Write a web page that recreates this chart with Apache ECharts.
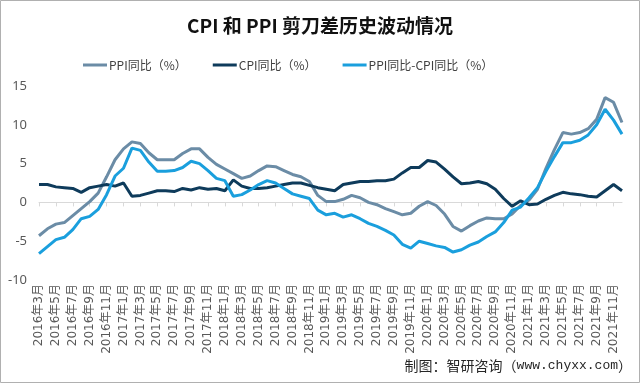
<!DOCTYPE html>
<html>
<head>
<meta charset="utf-8">
<script src="https://cdn.jsdelivr.net/npm/echarts@6/dist/echarts.min.js"></script>
<style>html,body{margin:0;padding:0;background:#fff}#c{width:640px;height:383px}</style>
</head>
<body>
<div id="c"></div>
<script>
const months = [];
for (let y = 2016; y <= 2021; y++) {
  for (let m = (y === 2016 ? 3 : 1); m <= 12; m++) months.push(y + '年' + m + '月');
}
const ppi = [
  -4.3, -3.4, -2.8, -2.6, -1.7, -0.8, 0.1, 1.2, 3.3, 5.5,
  6.9, 7.8, 7.6, 6.4, 5.5, 5.5, 5.5, 6.3, 6.9, 6.9, 5.8, 4.9,
  4.3, 3.7, 3.1, 3.4, 4.1, 4.7, 4.6, 4.1, 3.6, 3.3, 2.7, 0.9,
  0.1, 0.1, 0.4, 0.9, 0.6, 0.0, -0.3, -0.8, -1.2, -1.6, -1.4, -0.5,
  0.1, -0.4, -1.5, -3.1, -3.7, -3.0, -2.4, -2.0, -2.1, -2.1, -1.5, -0.4,
  0.3, 1.7, 4.4, 6.8, 9.0, 8.8, 9.0, 9.5, 10.7, 13.5, 12.9, 10.3
];
const cpi = [
  2.3, 2.3, 2.0, 1.9, 1.8, 1.3, 1.9, 2.1, 2.3, 2.1,
  2.5, 0.8, 0.9, 1.2, 1.5, 1.5, 1.4, 1.8, 1.6, 1.9, 1.7, 1.8,
  1.5, 2.9, 2.1, 1.8, 1.8, 1.9, 2.1, 2.3, 2.5, 2.5, 2.2, 1.9,
  1.7, 1.5, 2.3, 2.5, 2.7, 2.7, 2.8, 2.8, 3.0, 3.8, 4.5, 4.5,
  5.4, 5.2, 4.3, 3.3, 2.4, 2.5, 2.7, 2.4, 1.7, 0.5, -0.5, 0.2,
  -0.3, -0.2, 0.4, 0.9, 1.3, 1.1, 1.0, 0.8, 0.7, 1.5, 2.3, 1.5
];
const spread = [
  -6.6, -5.7, -4.8, -4.5, -3.5, -2.1, -1.8, -0.9, 1.0, 3.4,
  4.4, 7.0, 6.7, 5.2, 4.0, 4.0, 4.1, 4.5, 5.3, 5.0, 4.1, 3.1,
  2.8, 0.8, 1.0, 1.6, 2.3, 2.8, 2.5, 1.8, 1.1, 0.8, 0.5, -1.0,
  -1.6, -1.4, -1.9, -1.6, -2.1, -2.7, -3.1, -3.6, -4.2, -5.4, -5.9, -5.0,
  -5.3, -5.6, -5.8, -6.4, -6.1, -5.5, -5.1, -4.4, -3.8, -2.6, -1.0, -0.6,
  0.6, 1.9, 4.0, 5.9, 7.7, 7.7, 8.0, 8.7, 10.0, 12.0, 10.6, 8.8
];
const yTicks = [-10, -5, 0, 5, 10, 15];
const names = ['PPI同比（%）', 'CPI同比（%）', 'PPI同比-CPI同比（%）'];
const colors = ['#6B8CA6', '#0E3B5B', '#1A9FDD'];

const chart = echarts.init(document.getElementById('c'));
chart.setOption({
  animation: false,
  backgroundColor: '#fff',
  title: {
    text: 'CPI 和 PPI 剪刀差历史波动情况',
    left: 'center', top: 11,
    textStyle: { fontFamily: 'Noto Sans CJK SC', fontSize: 19, fontWeight: 'bold', color: '#111' }
  },
  legend: {
    left: 78, top: 54,
    itemWidth: 24, itemHeight: 3, itemGap: 26,
    icon: 'rect',
    textStyle: { fontFamily: 'Noto Sans CJK SC', fontSize: 12, color: '#404040', padding: [0, 0, 0, -3] },
    data: names
  },
  grid: { left: 39, right: 18, top: 86, bottom: 103, containLabel: false },
  xAxis: [{
    type: 'category', data: months, boundaryGap: false,
    axisLine: { show: false, onZero: false },
    axisTick: { show: false },
    axisLabel: { interval: 1, rotate: 90, margin: 4, fontFamily: 'DejaVu Sans, Noto Sans CJK SC', fontSize: 12, color: '#595959' }
  }, {
    type: 'category', data: months, boundaryGap: false, position: 'bottom',
    axisLine: { show: true, onZero: true, lineStyle: { color: '#d9d9d9', width: 1 } },
    axisTick: { show: true, interval: 1, length: 4, inside: false, lineStyle: { color: '#d9d9d9' } },
    axisLabel: { show: false }
  }],
  yAxis: {
    type: 'value', min: yTicks[0], max: yTicks[yTicks.length - 1], interval: 5,
    axisLine: { show: false }, axisTick: { show: false }, splitLine: { show: false },
    axisLabel: { margin: 12, fontFamily: 'Noto Sans', fontSize: 13, color: '#595959' }
  },
  series: [
    { name: names[0], type: 'line', data: ppi, symbol: 'none', lineStyle: { width: 3, color: colors[0] }, itemStyle: { color: colors[0] } },
    { name: names[1], type: 'line', data: cpi, symbol: 'none', lineStyle: { width: 3, color: colors[1] }, itemStyle: { color: colors[1] } },
    { name: names[2], type: 'line', data: spread, symbol: 'none', lineStyle: { width: 3, color: colors[2] }, itemStyle: { color: colors[2] } }
  ],
  graphic: [
    { type: 'rect', shape: { x: 0.5, y: 0.5, width: 639, height: 382 }, style: { fill: 'none', stroke: '#b0b0b0', lineWidth: 1 }, silent: true },
    { type: 'text', right: 8, top: 359, style: {
        text: '{a|制图：智研咨询（}{b|www.chyxx.com}{a|）}',
        rich: {
          a: { fontFamily: 'Noto Sans CJK SC', fontSize: 14, fill: '#262626', color: '#262626' },
          b: { fontFamily: 'Liberation Mono', fontSize: 13, fill: '#262626', color: '#262626' }
        }
      } }
  ]
});
</script>
</body>
</html>
